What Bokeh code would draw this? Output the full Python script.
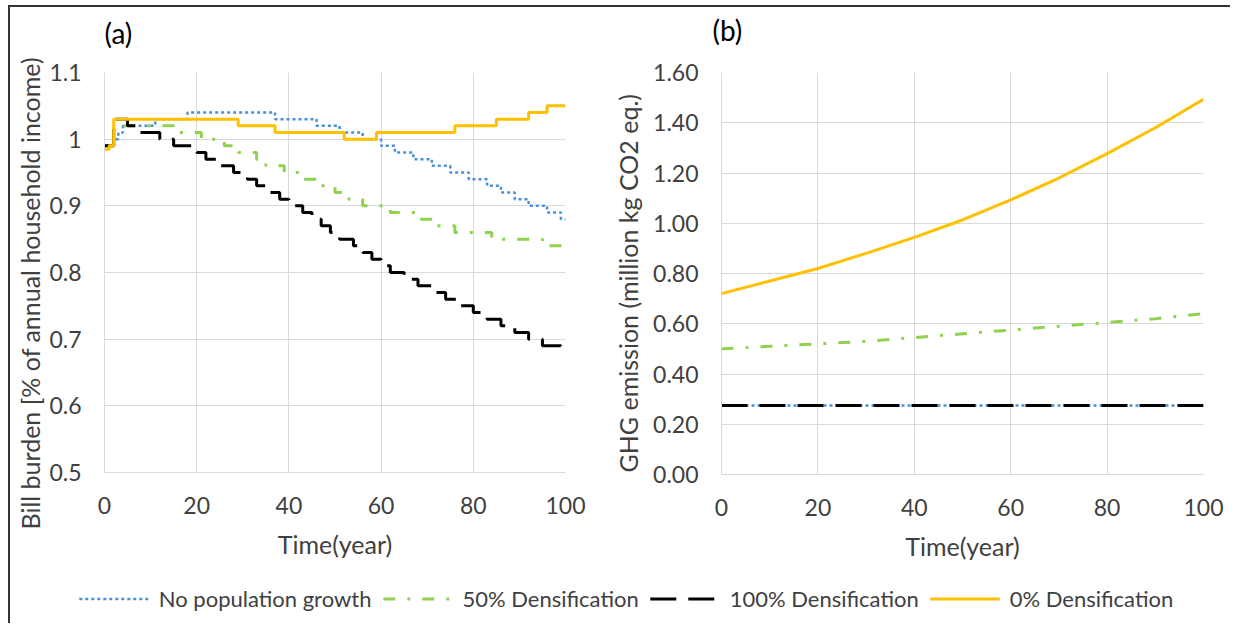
from bokeh.plotting import figure
from bokeh.layouts import row, column, Spacer
from bokeh.models import Range1d, FixedTicker, Legend, LegendItem, Title
from bokeh.core.properties import value
from bokeh.embed import file_html
from bokeh.resources import INLINE

# ---------------- data: panel (a) bill burden (step series, change points) ----------------
blue_x = [0, 2, 3, 4, 11, 18, 37, 46, 51, 56, 60, 63, 67, 71, 75, 79, 83, 86, 89, 92, 96, 99, 100]
blue_y = [0.99, 1.00, 1.01, 1.02, 1.03, 1.04, 1.03, 1.02, 1.01, 1.00, 0.99, 0.98, 0.97, 0.96,
          0.95, 0.94, 0.93, 0.92, 0.91, 0.90, 0.89, 0.88, 0.88]

green_x = [0, 2, 15, 21, 26, 29, 33, 35, 39, 42, 46, 50, 53, 56, 62, 68, 72, 76, 84, 95, 100]
green_y = [0.99, 1.02, 1.01, 1.00, 0.99, 0.98, 0.97, 0.96, 0.95, 0.94, 0.93, 0.92, 0.91, 0.90,
           0.89, 0.88, 0.87, 0.86, 0.85, 0.84, 0.84]

black_x = [0, 2, 5, 7, 12, 15, 20, 22, 25, 28, 31, 33, 35, 38, 40, 43, 45, 47, 49, 51,
           54, 56, 58, 60, 62, 65, 68, 71, 74, 77, 80, 83, 86, 89, 92, 95, 99, 100]
black_y = [0.99, 1.03, 1.02, 1.01, 1.00, 0.99, 0.98, 0.97, 0.96, 0.95, 0.94, 0.93, 0.92, 0.91,
           0.90, 0.89, 0.88, 0.87, 0.86, 0.85, 0.84, 0.83, 0.82, 0.81, 0.80, 0.79, 0.78, 0.77,
           0.76, 0.75, 0.74, 0.73, 0.72, 0.71, 0.70, 0.69, 0.68, 0.68]

orange_x = [0, 1, 2, 29, 37, 52, 59, 76, 85, 92, 96, 100]
orange_y = [0.985, 0.99, 1.03, 1.02, 1.01, 1.00, 1.01, 1.02, 1.03, 1.04, 1.05, 1.05]

# ---------------- data: panel (b) GHG emission ----------------
years_b = [0, 10, 20, 30, 40, 50, 60, 70, 80, 90, 100]
orange_b = [0.72, 0.77, 0.82, 0.88, 0.944, 1.013, 1.093, 1.18, 1.277, 1.38, 1.493]
green_b = [0.50, 0.51, 0.52, 0.53, 0.545, 0.56, 0.575, 0.59, 0.605, 0.62, 0.64]
black_b = [0.275, 0.275, 0.275, 0.275, 0.275, 0.275, 0.275, 0.275, 0.275, 0.275, 0.275]
blue_b = [0.275, 0.275, 0.275, 0.275, 0.275, 0.275, 0.275, 0.275, 0.275, 0.275, 0.275]

# ---------------- ticks / labels ----------------
x_ticks = [0, 20, 40, 60, 80, 100]
x_labels = ["0", "20", "40", "60", "80", "100"]
ya_ticks = [0.5, 0.6, 0.7, 0.8, 0.9, 1.0, 1.1]
ya_labels = ["0.5", "0.6", "0.7", "0.8", "0.9", "1", "1.1"]
yb_ticks = [0.0, 0.2, 0.4, 0.6, 0.8, 1.0, 1.2, 1.4, 1.6]
yb_labels = ["0.00", "0.20", "0.40", "0.60", "0.80", "1.00", "1.20", "1.40", "1.60"]

series_names = ["No population growth", "50% Densification", "100% Densification", "0% Densification"]
panel_tags = ["(a)", "(b)"]

FONT = "Lato"
TXT = "#404040"
GRID = "#D9D9D9"
BLUE = "#4A90D9"
GREEN = "#92D050"
BLACK = "#000000"
ORANGE = "#FFC000"

STY = {
    "blue": dict(line_color=BLUE, line_width=2.5, line_dash="3 3"),
    "green": dict(line_color=GREEN, line_width=3, line_dash="12 12 3 12"),
    "black": dict(line_color=BLACK, line_width=3, line_dash="26 12"),
    "orange": dict(line_color=ORANGE, line_width=3),
}


def style(p, yticks, ylabels, ylab, ylab_standoff, ylab_offset):
    p.outline_line_color = None
    p.background_fill_color = "white"
    p.border_fill_color = "white"
    for ax in (p.xaxis[0], p.yaxis[0]):
        ax.major_tick_line_color = None
        ax.minor_tick_line_color = None
        ax.major_tick_out = 0
        ax.major_tick_in = 0
        ax.axis_line_color = GRID
        ax.axis_line_width = 1
        ax.major_label_text_font = FONT
        ax.major_label_text_font_size = "23px"
        ax.major_label_text_color = TXT
        ax.axis_label_text_font = FONT
        ax.axis_label_text_font_size = "25px"
        ax.axis_label_text_font_style = "normal"
        ax.axis_label_text_color = TXT
    p.xaxis.ticker = FixedTicker(ticks=x_ticks)
    p.xaxis.major_label_overrides = dict(zip(x_ticks, x_labels))
    p.xaxis.axis_label = "Time(year)"
    p.xaxis.major_label_standoff = 24
    p.xaxis.axis_label_standoff = 12
    p.yaxis.ticker = FixedTicker(ticks=yticks)
    p.yaxis.major_label_overrides = dict(zip(yticks, ylabels))
    p.yaxis.major_label_standoff = 23
    p.xgrid.ticker = FixedTicker(ticks=x_ticks)
    p.ygrid.ticker = FixedTicker(ticks=yticks)
    p.grid.grid_line_color = GRID
    p.grid.grid_line_width = 1
    # y-axis title as a left-side Title (sits lower than frame centre, as in the original)
    p.add_layout(Title(text=ylab, align="left", offset=ylab_offset, vertical_align="bottom",
                       standoff=ylab_standoff, text_font=FONT, text_font_size="25px",
                       text_font_style="normal", text_color=TXT), "left")


pa = figure(frame_width=461, frame_height=400, min_border_left=94, min_border_right=30,
            min_border_top=20, min_border_bottom=98,
            x_range=Range1d(0, 100), y_range=Range1d(0.5, 1.1),
            toolbar_location=None, output_backend="svg")
style(pa, ya_ticks, ya_labels, "Bill burden [% of annual household income)", 4, -57)
pa.step(blue_x, blue_y, mode="after", **STY["blue"])
pa.step(green_x, green_y, mode="after", **STY["green"])
pa.step(black_x, black_y, mode="after", **STY["black"])
pa.step(orange_x, orange_y, mode="after", **STY["orange"])

pb = figure(frame_width=482, frame_height=402, min_border_left=126, min_border_right=27,
            min_border_top=20, min_border_bottom=96,
            x_range=Range1d(0, 100), y_range=Range1d(0, 1.6),
            toolbar_location=None, output_backend="svg")
style(pb, yb_ticks, yb_labels, "GHG emission (million kg CO2 eq.)", 16, 2)
pb.line(years_b, blue_b, **STY["blue"])
pb.line(years_b, green_b, **STY["green"])
pb.line(years_b, black_b, **STY["black"])
pb.line(years_b, orange_b, **STY["orange"])

# strip above the panels carrying the "(a)" / "(b)" tags (pixel-unit ranges)
strip = figure(width=1220, height=45, min_border=0, min_border_left=12, toolbar_location=None,
               output_backend="svg", x_axis_location=None, y_axis_location=None,
               x_range=Range1d(0, 1208), y_range=Range1d(0, 45))
strip.grid.visible = False
strip.outline_line_color = None
strip.text(x=[82, 690], y=[20, 23], text=panel_tags, text_font=value(FONT), text_font_size="28px",
           text_color="#000000", text_align="left", text_baseline="middle")

leg = figure(width=1220, height=56, min_border=0, min_border_left=12, toolbar_location=None,
             output_backend="svg", x_axis_location=None, y_axis_location=None,
             x_range=Range1d(0, 1), y_range=Range1d(0, 1))
leg.grid.visible = False
leg.outline_line_color = None
items = []
for name, key in zip(series_names, ["blue", "green", "black", "orange"]):
    r = leg.line(x=[-10, -9], y=[-10, -9], **STY[key])
    items.append(LegendItem(label=name, renderers=[r]))
legend = Legend(items=items, orientation="horizontal", location="center",
                glyph_width=70, label_standoff=10, spacing=11, padding=0, margin=0,
                border_line_color=None, background_fill_alpha=0,
                label_text_font=FONT, label_text_font_size="22px", label_text_color=TXT)
leg.add_layout(legend, "center")

top_bar = Spacer(width=1222, height=2, styles={"background-color": "#333333"})
left_bar = Spacer(width=2, height=616, styles={"background-color": "#333333"})
content = column(strip, row(pa, pb), leg)
page = column(Spacer(width=1230, height=5),
              row(Spacer(width=8, height=618), column(top_bar, row(left_bar, content))))

open("out.html", "w").write(file_html(page, INLINE))
